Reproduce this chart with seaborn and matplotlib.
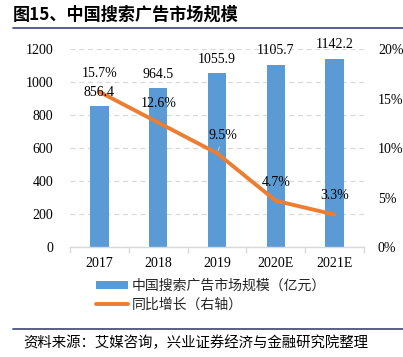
import matplotlib
matplotlib.use("Agg")
import matplotlib.pyplot as plt
import seaborn as sns
import pandas as pd
from matplotlib.lines import Line2D
from matplotlib.patches import Patch
from matplotlib.ticker import FuncFormatter

years = ["2017", "2018", "2019", "2020E", "2021E"]
market_size = [856.4, 964.5, 1055.9, 1105.7, 1142.2]
growth = [15.7, 12.6, 9.5, 4.7, 3.3]
bar_label = "中国搜索广告市场规模（亿元）"
line_label = "同比增长（右轴）"
title = "图15、中国搜索广告市场规模"
source = "资料来源：艾媒咨询，兴业证券经济与金融研究院整理"

sns.set_theme(style="white")
plt.rcParams["font.family"] = ["Liberation Serif", "Noto Sans CJK SC"]

BLUE = "#5B9BD5"
ORANGE = "#ED7D31"
W, H = 403, 357
fig = plt.figure(figsize=(W / 100, H / 100), dpi=100)

def fx(px):
    return px / W

def fy(py):
    return 1 - py / H

ax = fig.add_axes([fx(70), fy(247.3), fx(364) - fx(70), (247.3 - 49.3) / H])
df = pd.DataFrame({"year": years, "size": market_size, "growth": growth})
sns.barplot(data=df, x="year", y="size", color=BLUE, width=0.31, ax=ax,
            saturation=1, edgecolor="none")
ax.set_xlim(-0.5, 4.5)
ax.set_ylim(0, 1200)
ax.set_yticks(range(0, 1201, 200))
ax.set_xlabel("")
ax.set_ylabel("")
ax.grid(axis="y", color="#D9D9D9", linestyle=(0, (4, 3)), linewidth=0.9)
ax.set_axisbelow(True)
for s in ["top", "right", "left"]:
    ax.spines[s].set_visible(False)
ax.spines["bottom"].set_color("#D9D9D9")
ax.spines["bottom"].set_linewidth(1)
ax.set_xticks([i - 0.5 for i in range(6)], minor=True)
ax.tick_params(axis="x", which="minor", length=4, color="#D9D9D9", width=1, bottom=True)
ax.tick_params(axis="x", which="major", length=0, pad=7, labelsize=10, colors="black")
ax.tick_params(axis="y", length=0, pad=12, labelsize=10, colors="black")

ax2 = ax.twinx()
sns.lineplot(data=df, x="year", y="growth", color=ORANGE, linewidth=2.8, ax=ax2,
             legend=False)
ax2.set_ylim(0, 20)
ax2.set_yticks(range(0, 21, 5))
ax2.yaxis.set_major_formatter(FuncFormatter(lambda v, p: f"{v:.0f}%"))
ax2.set_ylabel("")
ax2.set_xlabel("")
for s in ["top", "right", "left", "bottom"]:
    ax2.spines[s].set_visible(False)
ax2.tick_params(axis="y", length=0, pad=10, labelsize=10, colors="black")
ax2.grid(False)

for i, v in enumerate(market_size):
    ax2.annotate(f"{v:.1f}", xy=(i, v / 60.0), xytext=(0, 10), textcoords="offset points",
                 ha="center", va="center", fontsize=10, color="black", zorder=5)

offsets = [(0, 13.2), (0, 14), (4.5, 13), (0, 13), (0, 13.5)]
for i, (g, off) in enumerate(zip(growth, offsets)):
    ax2.annotate(f"{g:.1f}%", xy=(i, g), xytext=off, textcoords="offset points",
                 ha="center", va="center", fontsize=10, color="black", zorder=5)
# leader line for 2019 label
ax2.annotate("", xy=(2, growth[2]), xytext=(2.06, growth[2] + 0.9),
             arrowprops=dict(arrowstyle="-", color="#BFBFBF", lw=0.8))

handles = [Patch(facecolor=BLUE, edgecolor="none"),
           Line2D([0], [0], color=ORANGE, linewidth=2.8)]
leg = fig.legend(handles, [bar_label, line_label], loc="upper left",
                 bbox_to_anchor=(fx(96), fy(279)), frameon=False,
                 prop={"family": ["Noto Sans CJK SC"], "size": 10},
                 handlelength=2.3, handleheight=0.5, handletextpad=0.3,
                 labelspacing=0.35, borderaxespad=0, borderpad=0)

fig.text(fx(13), fy(15), title, ha="left", va="center", fontsize=12.3,
         fontweight="bold", family=["Noto Sans CJK SC"], color="black")
fig.add_artist(Line2D([fx(13), fx(403)], [fy(28), fy(28)], color="#4B4F8C", lw=1.3))
fig.add_artist(Line2D([fx(13), fx(403)], [fy(329), fy(329)], color="#4B4F8C", lw=1.3))
fig.text(fx(23), fy(343), source, ha="left", va="center", fontsize=10.4,
         family=["Noto Sans CJK SC"], color="black")

fig.savefig("out.png", dpi=100)
